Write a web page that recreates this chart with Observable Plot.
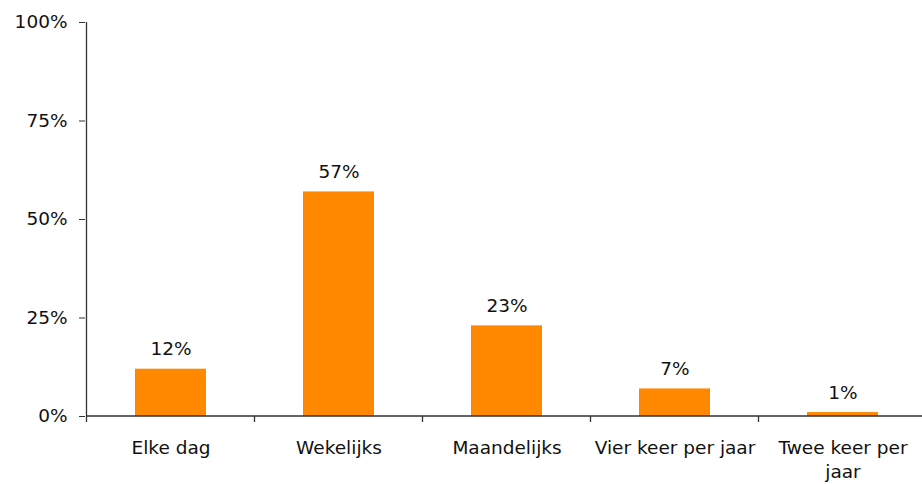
<!DOCTYPE html>
<html>
<head>
<meta charset="utf-8">
<script src="https://cdn.jsdelivr.net/npm/d3@7"></script>
<script src="https://cdn.jsdelivr.net/npm/@observablehq/plot@0.6"></script>
<style>
  html, body { margin: 0; padding: 0; background: #fff; }
  #chart { width: 922px; height: 484px; }
</style>
</head>
<body>
<div id="chart"></div>
<script>
const categories = ["Elke dag", "Wekelijks", "Maandelijks", "Vier keer per jaar", "Twee keer per jaar"];
const values = [12, 57, 23, 7, 1];
const yTicks = [0, 25, 50, 75, 100];
const tickLabels = {"Twee keer per jaar": "Twee keer per\njaar"};

const data = categories.map((c, i) => ({category: c, value: values[i]}));

const textColor = "#111";
const axisColor = "#333";
const barColor = "#ff8800";

// Render-only mark for axis lines and category boundary ticks
function axisLines(index, scales, values, dimensions) {
  const xs = scales.x;
  const bw = xs.bandwidth ? xs.bandwidth() : 0;
  const step = xs(categories[1]) - xs(categories[0]);
  const y0 = scales.y(0);
  const g = d3.create("svg:g").attr("stroke", axisColor).attr("stroke-width", 1.3);
  const left = xs(categories[0]) + bw / 2 - step / 2;
  const right = xs(categories[categories.length - 1]) + bw / 2 + step / 2;
  g.append("line").attr("x1", left).attr("x2", left).attr("y1", scales.y(100)).attr("y2", y0);
  g.append("line").attr("x1", left).attr("x2", right).attr("y1", y0).attr("y2", y0);
  for (let i = 0; i <= categories.length; i++) {
    const bx = left + i * step;
    g.append("line").attr("x1", bx).attr("x2", bx).attr("y1", y0).attr("y2", y0 + 6);
  }
  return g.node();
}

const plot = Plot.plot({
  width: 922,
  height: 484,
  marginLeft: 85,
  marginRight: -6,
  marginTop: 22,
  marginBottom: 68,
  style: {fontFamily: "DejaVu Sans", fontSize: "18px", color: textColor, background: "#fff"},
  x: {domain: categories, paddingInner: 0.58, paddingOuter: 0.29, label: null},
  y: {domain: [0, 100], label: null},
  marks: [
    Plot.barY(data, {x: "category", y: "value", fill: barColor}),
    Plot.text(data, {x: "category", y: "value", text: d => d.value + "%", lineAnchor: "bottom", dy: -14, fill: textColor, fontSize: 18.5}),
    Plot.axisY({ticks: yTicks, tickFormat: d => d + "%", tickSize: 6, tickPadding: 12, stroke: axisColor, fill: textColor, fontSize: 18.5, label: null}),
    Plot.axisX({tickSize: 0, tickPadding: 20, tickFormat: d => tickLabels[d] || d, fill: textColor, fontSize: 18.5, lineHeight: 1.3, label: null}),
    axisLines
  ]
});
document.getElementById("chart").appendChild(plot);
</script>
</body>
</html>
